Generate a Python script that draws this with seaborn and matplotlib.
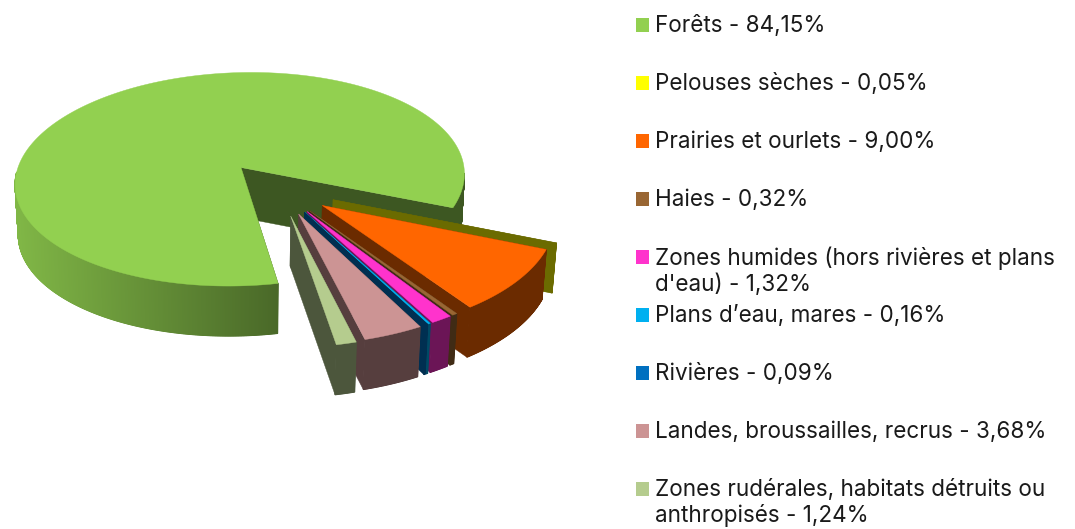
import numpy as np
import pandas as pd
import matplotlib
matplotlib.use("Agg")
import matplotlib.pyplot as plt
import seaborn as sns
from matplotlib.patches import Polygon

names = ["Forêts", "Pelouses sèches", "Prairies et ourlets", "Haies",
         "Zones humides (hors rivières et plans\nd'eau)", "Plans d’eau, mares",
         "Rivières", "Landes, broussailles, recrus",
         "Zones rudérales, habitats détruits ou\nanthropisés"]
shares = [84.15, 0.05, 9.00, 0.32, 1.32, 0.16, 0.09, 3.68, 1.24]
colors = ["#92D050", "#FFFF00", "#FF6600", "#996633", "#FF33CC",
          "#00B0F0", "#0070C0", "#CC9494", "#B5CC8E"]
exploded = [False, True, True, True, True, True, True, True, True]

# fake 3d view, all in pixels
cx, cy = 241, 167.5
rx, ry = 223, 105.5
persp = 0.11
skew = 0.05
depth = 50
start_angle = 78.6
explode = 0.5


def project(u, v, h=0):
    w = 1 - persp * v
    u = u - skew * v
    return cx + rx * u / w * (1 - 0.014 * h), cy + ry * v / w + depth * h


def shade(color, f):
    return tuple(c * f for c in matplotlib.colors.to_rgb(color))


def forest_shade(x):
    return np.clip(0.88 - 0.38 * (x - 14) / 266, 0.42, 0.88)


sns.set_theme(style="white")
plt.rcParams['font.family'] = ['Inter', 'DejaVu Sans']

fig = plt.figure(figsize=(10.75, 5.29), dpi=100)
ax = fig.add_axes([0, 0, 1, 1])

fractions = np.array(shares) / sum(shares)
t0 = start_angle
for i, frac in enumerate(fractions):
    t1 = t0 + frac * 360
    mid = (t0 + t1) / 2
    ou, ov = 0, 0
    if exploded[i]:
        # explode direction is squeezed around the middle of the small slices
        phi = np.radians(56 + 0.485 * (((mid + 360) % 360) - 58))
        ou = explode * np.cos(phi) + 0.022
        ov = explode * np.sin(phi) - 0.015

    angles = np.radians(np.linspace(t0, t1, max(3, int(t1 - t0) * 6)))
    us = ou + np.cos(angles)
    vs = ov + np.sin(angles)
    wall = shade(colors[i], 0.42)
    top = [project(ou, ov)] + [project(u, v) for u, v in zip(us, vs)]

    # the thinnest slice only shows its wall in the original
    if frac < 0.001:
        ax.add_patch(Polygon(top, closed=True, fc=wall, lw=0))

    # radial wall on the clockwise end
    ax.add_patch(Polygon([project(ou, ov), project(us[-1], vs[-1]),
                          project(us[-1], vs[-1], 1), project(ou, ov, 1)],
                         closed=True, fc=wall, ec=wall, lw=0.3))
    # radial wall on the start side
    ax.add_patch(Polygon([project(ou, ov), project(us[0], vs[0]),
                          project(us[0], vs[0], 1), project(ou, ov, 1)],
                         closed=True, fc=wall, ec=wall, lw=0.3))
    # outer wall, the back part is hidden anyway
    for j in range(len(us) - 1):
        if np.sin(angles[j]) < 0.05:
            continue
        x0, y0 = project(us[j], vs[j])
        x1, y1 = project(us[j + 1], vs[j + 1])
        x2, y2 = project(us[j + 1], vs[j + 1], 1)
        x3, y3 = project(us[j], vs[j], 1)
        c = wall
        if i == 0:
            c = shade(colors[i], forest_shade((x0 + x1) / 2))
        ax.add_patch(Polygon([(x0, y0), (x1, y1), (x2, y2), (x3, y3)],
                             closed=True, fc=c, ec=c, lw=0.8))
    # top
    if frac >= 0.001:
        ax.add_patch(Polygon(top, closed=True, fc=colors[i], ec=colors[i], lw=0.3))
    t0 = t1

# legend
rows = pd.DataFrame({
    "name": names,
    "x": 642.5,
    "y": 25 + 58 * np.arange(len(names)),
})
sns.scatterplot(data=rows, x="x", y="y", hue="name", palette=dict(zip(names, colors)),
                marker="s", s=88, linewidth=0, legend=False, ax=ax)
for name, share, y in zip(names, shares, rows["y"]):
    label = name + " - " + f"{share:.2f}".replace(".", ",") + "%"
    ax.text(655, y - 10, label, fontsize=16.2, color="#1a1a1a", va="top",
            linespacing=1.17)

ax.set_xlim(0, 1075)
ax.set_ylim(529, 0)
ax.axis("off")
plt.savefig("out.png", dpi=100)
